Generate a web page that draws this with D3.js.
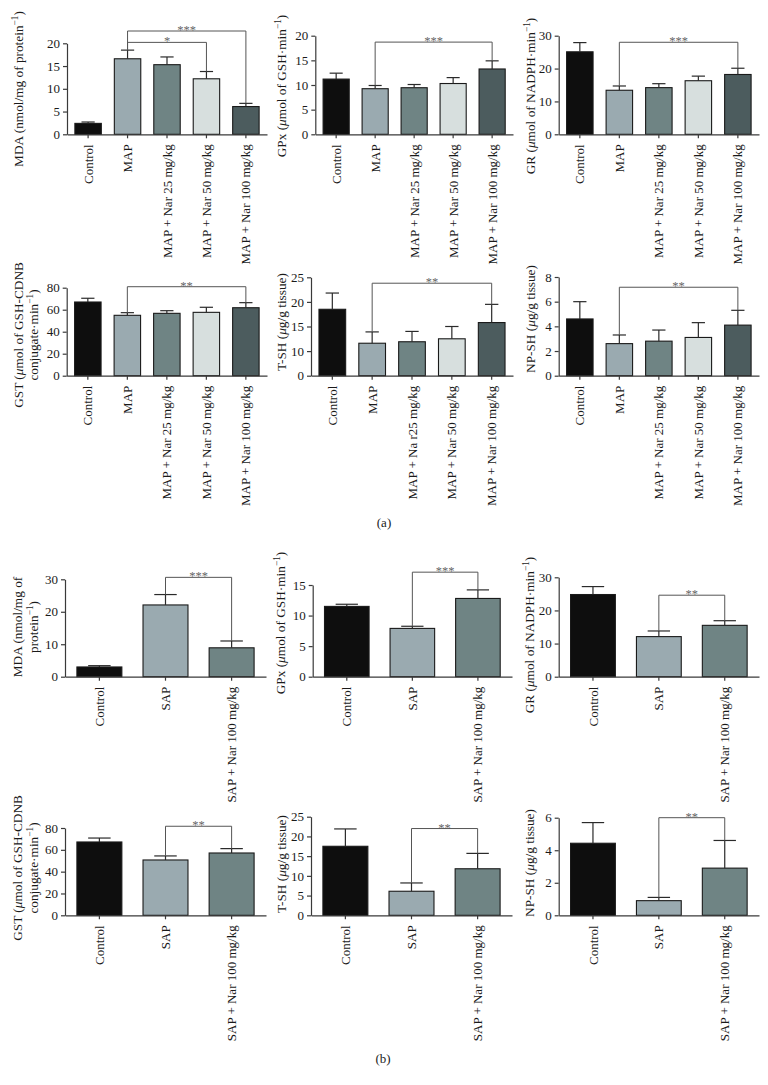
<!DOCTYPE html>
<html><head><meta charset="utf-8">
<script src="https://cdn.jsdelivr.net/npm/d3@7"></script>
<style>
html,body{margin:0;padding:0;background:#fff;}
svg{display:block;font-family:"Liberation Serif","Times New Roman",serif;}
</style></head>
<body>
<svg id="chart" width="768" height="1085"></svg>
<script>
// ---------- DATA ----------
const catsA = ["Control","MAP","MAP + Nar 25 mg/kg","MAP + Nar 50 mg/kg","MAP + Nar 100 mg/kg"];
const catsA_TSH = ["Control","MAP","MAP + Na r25 mg/kg","MAP + Nar 50 mg/kg","MAP + Nar 100 mg/kg"];
const catsB = ["Control","SAP","SAP + Nar 100 mg/kg"];

const aMDA = [2.4,16.6,15.3,12.2,6.1],      aMDAErr = [0.3,1.9,1.7,1.6,0.7];
const aGPx = [11.2,9.25,9.45,10.3,13.25],   aGPxErr = [1.2,0.65,0.65,1.2,1.65];
const aGR  = [25.1,13.4,14.2,16.3,18.2],    aGRErr  = [2.8,1.3,1.2,1.4,1.9];
const aGST = [67,54.9,56.7,57.6,61.8],      aGSTErr = [3.4,2.4,2.4,4.6,4.6];
const aTSH = [18.5,11.6,11.9,12.5,15.8],    aTSHErr = [3.3,2.3,2.1,2.5,3.7];
const aNPSH= [4.6,2.6,2.8,3.1,4.1],         aNPSHErr= [1.4,0.7,0.9,1.2,1.2];

const bMDA = [3.0,22.1,8.9],   bMDAErr = [0.4,3.2,2.1];
const bGPx = [11.5,7.9,12.8],  bGPxErr = [0.35,0.35,1.4];
const bGR  = [24.8,12.1,15.5], bGRErr  = [2.4,1.7,1.4];
const bGST = [67.2,50.7,57.1], bGSTErr = [3.6,3.7,4.0];
const bTSH = [17.5,6.1,11.8],  bTSHErr = [4.4,2.1,3.9];
const bNPSH= [4.43,0.9,2.9],   bNPSHErr= [1.27,0.2,1.7];

const ticks20 = [0,5,10,15,20];
const ticks30 = [0,10,20,30];
const ticks80 = [0,20,40,60,80];
const ticks8  = [0,2,4,6,8];
const ticksTSHa = [5,10,15,20,25];
const tickLabelsTSHa = ["0","10","15","20","25"];
const ticks15 = [0,5,10,15];
const ticks25 = [0,5,10,15,20,25];
const ticks6  = [0,2,4,6];

// significance brackets: [from index, to index, label, level in data units]
const sigAMDA = [[1,4,"***",22.7],[1,3,"*",20.2]];
const sigAGPx = [[1,4,"***",18.7]];
const sigAGR  = [[1,4,"***",28.0]];
const sigAGST = [[1,4,"**",80.9]];
const sigATSH = [[1,4,"**",23.8]];
const sigANPSH= [[1,4,"**",7.17]];
const sigBMDA = [[1,2,"***",30.6]];
const sigBGPx = [[1,2,"***",17.1]];
const sigBGR  = [[1,2,"**",24.6]];
const sigBGST = [[1,2,"**",81.6]];
const sigBTSH = [[1,2,"**",22.0]];
const sigBNPSH= [[1,2,"**",6.0]];

const colorsA = ["#0e0e0e","#9aaab0","#6f8484","#d7dfde","#4c5c5e"];
const colorsB = ["#0e0e0e","#9aaab0","#6f8484"];

// y labels (segments: [text, style]) style: "" normal, "i" italic, "s" superscript
const lblMDA  = [["MDA (nmol/mg of protein",""],["−1","s"],[")",""]];
const lblMDAb1= [["MDA (nmol/mg of",""]];
const lblMDAb2= [["protein",""],["−1","s"],[")",""]];
const lblGPx  = [["GPx (",""],["μ","i"],["mol of GSH·min",""],["−1","s"],[")",""]];
const lblGR   = [["GR (",""],["μ","i"],["mol of NADPH·min",""],["−1","s"],[")",""]];
const lblGST1 = [["GST (",""],["μ","i"],["mol of GSH-CDNB",""]];
const lblGST2 = [["conjugate·min",""],["−1","s"],[")",""]];
const lblTSH  = [["T-SH (",""],["μ","i"],["g/g tissue)",""]];
const lblNPSH = [["NP-SH (",""],["μ","i"],["g/g tissue)",""]];

// ---------- LAYOUT ----------
const panels = [
 {cats:catsA, v:aMDA, e:aMDAErr, col:colorsA, x0:67,   x1:267, yb:134.3, yt:43.3,  dom:[0,20], ticks:ticks20, sig:sigAMDA, labels:[[lblMDA,18]], ly:89},
 {cats:catsA, v:aGPx, e:aGPxErr, col:colorsA, x0:315.3,x1:513, yb:134.3, yt:35.7,  dom:[0,20], ticks:ticks20, sig:sigAGPx, labels:[[lblGPx,281]], ly:86},
 {cats:catsA, v:aGR,  e:aGRErr,  col:colorsA, x0:558.7,x1:759, yb:134.3, yt:35.7,  dom:[0,30], ticks:ticks30, sig:sigAGR,  labels:[[lblGR,530]], ly:96},
 {cats:catsA, v:aGST, e:aGSTErr, col:colorsA, x0:66.7, x1:267, yb:375.7, yt:287.7, dom:[0,80], ticks:ticks80, sig:sigAGST, labels:[[lblGST1,18],[lblGST2,33]], ly:335},
 {cats:catsA_TSH, v:aTSH, e:aTSHErr, col:colorsA, x0:311, x1:513, yb:375.7, yt:277.3, dom:[5,25], ticks:ticksTSHa, tickLabels:tickLabelsTSHa, sig:sigATSH, labels:[[lblTSH,281]], ly:322},
 {cats:catsA, v:aNPSH,e:aNPSHErr,col:colorsA, x0:558.7,x1:759, yb:375.7, yt:277,   dom:[0,8],  ticks:ticks8,  sig:sigANPSH,labels:[[lblNPSH,530]], ly:319},
 {cats:catsB, v:bMDA, e:bMDAErr, col:colorsB, x0:65,   x1:266, yb:676.7, yt:579.3, dom:[0,30], ticks:ticks30, sig:sigBMDA, labels:[[lblMDAb1,17],[lblMDAb2,33]], ly:627},
 {cats:catsB, v:bGPx, e:bGPxErr, col:colorsB, x0:312.7,x1:512, yb:676.7, yt:585,   dom:[0,15], ticks:ticks15, sig:sigBGPx, labels:[[lblGPx,280]], ly:623},
 {cats:catsB, v:bGR,  e:bGRErr,  col:colorsB, x0:558.7,x1:759, yb:676.7, yt:577.3, dom:[0,30], ticks:ticks30, sig:sigBGR,  labels:[[lblGR,529]], ly:635},
 {cats:catsB, v:bGST, e:bGSTErr, col:colorsB, x0:65,   x1:266, yb:915.3, yt:828,   dom:[0,80], ticks:ticks80, sig:sigBGST, labels:[[lblGST1,17],[lblGST2,33]], ly:868},
 {cats:catsB, v:bTSH, e:bTSHErr, col:colorsB, x0:311,  x1:512, yb:915.3, yt:816.7, dom:[0,25], ticks:ticks25, sig:sigBTSH, labels:[[lblTSH,281]], ly:864},
 {cats:catsB, v:bNPSH,e:bNPSHErr,col:colorsB, x0:558.7,x1:759, yb:915.3, yt:817.7, dom:[0,6],  ticks:ticks6,  sig:sigBNPSH,labels:[[lblNPSH,529]], ly:863},
];

const svg = d3.select("#chart");
const AX = "#3a3a3a";

function drawLabel(g, segs, x, y){
  const t = g.append("text")
    .attr("transform", `translate(${x},${y}) rotate(-90)`)
    .attr("text-anchor","middle").attr("dy","0.35em")
    .attr("font-size",13.3).attr("fill","#1a1a1a");
  segs.forEach(([s,st])=>{
    const ts = t.append("tspan").text(s);
    if(st==="i") ts.attr("font-style","italic");
    if(st==="s") ts.attr("baseline-shift","super").attr("font-size","70%");
  });
}

panels.forEach(p=>{
  const g = svg.append("g");
  const n = p.cats.length;
  const x = d3.scaleBand().domain(p.cats).range([p.x0,p.x1])
      .paddingInner(n===5?0.33:0.32).paddingOuter(n===5?0.2:0.18);
  const y = d3.scaleLinear().domain(p.dom).range([p.yb,p.yt]);
  const bw = x.bandwidth();

  // bars
  g.selectAll("rect.bar").data(p.cats).join("rect")
    .attr("x",d=>x(d)).attr("width",bw)
    .attr("y",(d,i)=>y(p.v[i])).attr("height",(d,i)=>y(p.dom[0])-y(p.v[i]))
    .attr("fill",(d,i)=>p.col[i]).attr("stroke","#1a1a1a").attr("stroke-width",1.1);

  // error bars (upper only)
  p.cats.forEach((c,i)=>{
    const cx = x(c)+bw/2;
    g.append("line").attr("x1",cx).attr("x2",cx)
      .attr("y1",y(p.v[i])).attr("y2",y(p.v[i]+p.e[i]))
      .attr("stroke","#2a2a2a").attr("stroke-width",1.2);
    g.append("line").attr("x1",cx-bw/4).attr("x2",cx+bw/4)
      .attr("y1",y(p.v[i]+p.e[i])).attr("y2",y(p.v[i]+p.e[i]))
      .attr("stroke","#2a2a2a").attr("stroke-width",1.2);
  });

  // y axis
  const ya = d3.axisLeft(y).tickValues(p.ticks).tickSize(4).tickSizeOuter(0).tickPadding(3)
    .tickFormat((d,i)=> p.tickLabels ? p.tickLabels[i] : d);
  const yg = g.append("g").attr("transform",`translate(${p.x0},0)`).call(ya);
  yg.selectAll("text").attr("font-size",13).attr("font-family","Liberation Serif").attr("fill","#1a1a1a");
  yg.selectAll("line,path").attr("stroke",AX).attr("stroke-width",1.2);

  // x axis
  const xa = d3.axisBottom(x).tickSize(4).tickSizeOuter(0);
  const xg = g.append("g").attr("transform",`translate(0,${p.yb})`).call(xa);
  xg.selectAll("line,path").attr("stroke",AX).attr("stroke-width",1.2);
  xg.selectAll("text").attr("font-size",13).attr("font-family","Liberation Serif").attr("fill","#1a1a1a")
    .attr("transform","rotate(-90)").attr("x",-10).attr("y",0).attr("dy","0.35em")
    .attr("text-anchor","end");

  // significance
  p.sig.forEach(([a,b,lab,lvl])=>{
    const xa_ = x(p.cats[a])+bw/2, xb_ = x(p.cats[b])+bw/2;
    const ya_ = y(p.v[a]+p.e[a]), yb_ = y(p.v[b]+p.e[b]), yl = y(lvl);
    g.append("path").attr("d",`M${xa_},${ya_}V${yl}H${xb_}V${yb_}`)
      .attr("fill","none").attr("stroke","#555").attr("stroke-width",1);
    g.append("text").attr("x",(xa_+xb_)/2).attr("y",yl+3).attr("text-anchor","middle")
      .attr("font-size",12.5).attr("fill","#666").text(lab);
  });

  // y labels
  p.labels.forEach(([segs,lx])=>drawLabel(g,segs,lx,p.ly));
});

svg.append("text").attr("x",384).attr("y",527).attr("text-anchor","middle")
  .attr("font-size",13).attr("fill","#222").text("(a)");
svg.append("text").attr("x",383).attr("y",1063).attr("text-anchor","middle")
  .attr("font-size",13).attr("fill","#222").text("(b)");
</script>
</body></html>
